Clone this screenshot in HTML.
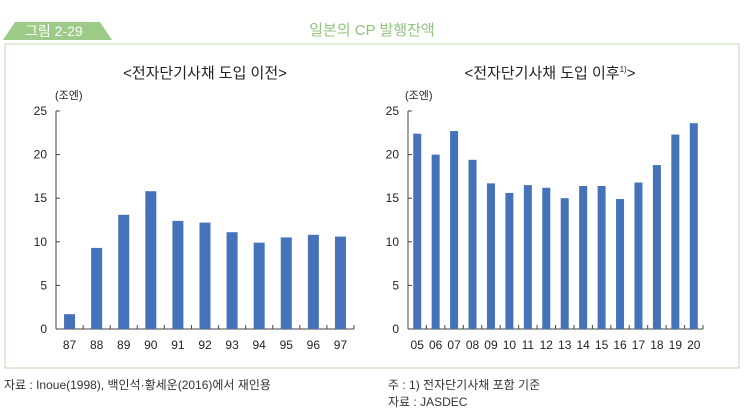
<!DOCTYPE html>
<html><head><meta charset="utf-8"><style>
body{margin:0;background:#fff;font-family:"Liberation Sans","Noto Sans CJK KR",sans-serif}
svg text{font-family:"Liberation Sans","Noto Sans CJK KR",sans-serif}
</style></head><body>
<svg id="c" width="744" height="414" viewBox="0 0 744 414">
<polygon points="3,40 15,22 100,22 112,40" fill="#9ccb87"/>
<text x="25" y="36" font-size="14" fill="#fff">그림 2-29</text>
<text x="372" y="35" font-size="15" fill="#8fc47a" text-anchor="middle">일본의 CP 발행잔액</text>
<rect x="5" y="44" width="734" height="324" fill="none" stroke="#c9e0bd" stroke-width="1.2"/>
<text x="205" y="78" font-size="15" fill="#222" text-anchor="middle">&lt;전자단기사채 도입 이전&gt;</text>
<text x="550" y="78" font-size="15" fill="#222" text-anchor="middle">&lt;전자단기사채 도입 이후<tspan font-size="8" dy="-6">1)</tspan><tspan dy="6">&gt;</tspan></text>
<text x="55" y="99" font-size="11" fill="#222">(조엔)</text>
<text x="405" y="99" font-size="11" fill="#222">(조엔)</text>
<g id="left"></g><g id="right"></g>
<text x="4" y="389" font-size="12" fill="#333">자료 : Inoue(1998), 백인석·황세운(2016)에서 재인용</text>
<text x="388" y="389" font-size="12" fill="#333">주 : 1) 전자단기사채 포함 기준</text>
<text x="388" y="406" font-size="12" fill="#333">자료 : JASDEC</text>
</svg>
<script>
const leftCategories=["87","88","89","90","91","92","93","94","95","96","97"];
const leftValues=[1.7,9.3,13.1,15.8,12.4,12.2,11.1,9.9,10.5,10.8,10.6];
const rightCategories=["05","06","07","08","09","10","11","12","13","14","15","16","17","18","19","20"];
const rightValues=[22.4,20.0,22.7,19.4,16.7,15.6,16.5,16.2,15.0,16.4,16.4,14.9,16.8,18.8,22.3,23.6];
const yTicks=[0,5,10,15,20,25];
const NS="http://www.w3.org/2000/svg";
function mk(p,t,a){const e=document.createElementNS(NS,t);for(const k in a)e.setAttribute(k,a[k]);p.appendChild(e);return e;}
function draw(g,cats,vals,x0,x1,bw,side){
  const y0=329,yTop=111,max=25;
  const ys=v=>y0-(v/max)*(y0-yTop);
  const step=(x1-x0)/cats.length;
  const xs=i=>x0+step*(i+0.5);
  let ax=mk(g,'line',{x1:x0,y1:yTop,x2:x0,y2:y0,stroke:'#444','stroke-width':1});
  
  
  let bx=mk(g,'line',{x1:x0,y1:y0,x2:x1,y2:y0,stroke:'#444','stroke-width':1});
  
  
  yTicks.forEach(t=>{
    mk(g,'line',{x1:x0,y1:ys(t),x2:x0+4,y2:ys(t),stroke:'#444'});
    const tx=mk(g,'text',{x:x0-9,y:ys(t)+4,'font-size':12,'text-anchor':'end',fill:'#222'});
    tx.textContent=t;
    
    
  });
  for(let i=0;i<=cats.length;i++){mk(g,'line',{x1:x0+step*i,y1:y0,x2:x0+step*i,y2:y0-4,stroke:'#444'});}
  cats.forEach((c,i)=>{
    const r=mk(g,'rect',{x:xs(i)-bw/2,y:ys(vals[i]),width:bw,height:y0-ys(vals[i]),fill:'#4572b9'});
    
    
    const t=mk(g,'text',{x:xs(i),y:y0+20,'font-size':12,'text-anchor':'middle',fill:'#222'});
    t.textContent=c;
    
    
  });
}
draw(document.getElementById('left'),leftCategories,leftValues,56,354,11,'left');
draw(document.getElementById('right'),rightCategories,rightValues,408,703,8,'right');
</script>
</body></html>
